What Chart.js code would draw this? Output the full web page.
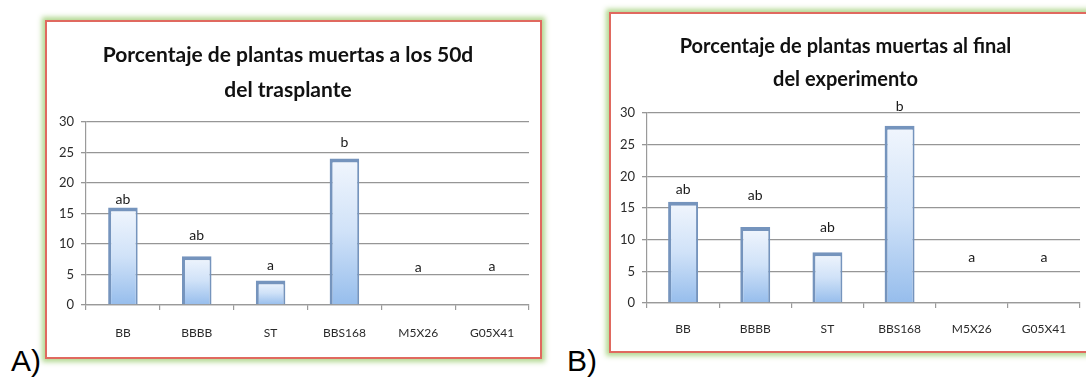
<!DOCTYPE html>
<html>
<head>
<meta charset="utf-8">
<script src="https://cdn.jsdelivr.net/npm/chart.js@4/dist/chart.umd.min.js"></script>
<style>
  html, body { margin: 0; padding: 0; background: #fff; }
  body { width: 1086px; height: 378px; position: relative; overflow: hidden; }
  .frame {
    position: absolute; box-sizing: border-box; background: #fff;
    border: 2px solid #e0695f;
    box-shadow: 0 0 5px 3px rgba(165, 208, 125, 0.85);
  }
  .frame canvas { display: block; }
  .tag { position: absolute; font-family: "Liberation Sans", Arial, sans-serif; font-size: 30px; line-height: 1; color: #000; }
</style>
</head>
<body>
<div class="frame" id="frameA" style="left:45px; top:20px; width:497px; height:339px;"><canvas id="chartA" width="493" height="335"></canvas></div>
<div class="frame" id="frameB" style="left:609px; top:12px; width:484px; height:341px;"><canvas id="chartB" width="480" height="337"></canvas></div>
<div class="tag" style="left:11px; top:346px;">A)</div>
<div class="tag" style="left:567px; top:346px;">B)</div>
<script>
// Genotypes evaluated
const categories = ['BB', 'BBBB', 'ST', 'BBS168', 'M5X26', 'G05X41'];
// Percentage of dead plants 50 days after transplanting
const deadAt50d = [16, 8, 4, 24, 0, 0];
// Percentage of dead plants at the end of the experiment
const deadAtEnd = [16, 12, 8, 28, 0, 0];
// Significance groups (letters) for each genotype
const lettersAt50d = ['ab', 'ab', 'a', 'b', 'a', 'a'];
const lettersAtEnd = ['ab', 'ab', 'ab', 'b', 'a', 'a'];
// Y-axis tick values
const yTicks = [0, 5, 10, 15, 20, 25, 30];

const FONT = 'Lato, "Open Sans", sans-serif';

// Writes the significance letter above each bar
const groupLetters = {
  id: 'groupLetters',
  afterDatasetsDraw(chart, args, opts) {
    const ctx = chart.ctx;
    const meta = chart.getDatasetMeta(0);
    ctx.save();
    ctx.font = opts.size + 'px ' + FONT;
    ctx.fillStyle = '#1a1a1a';
    ctx.textAlign = 'center';
    ctx.textBaseline = 'middle';
    meta.data.forEach((bar, i) => {
      ctx.fillText(opts.letters[i], bar.x, bar.y - opts.offsets[i]);
    });
    ctx.restore();
  }
};

function barFill(c) {
  const chart = c.chart;
  if (!chart.chartArea || !chart.scales.y) return '#c8dcf5';
  const y = chart.scales.y;
  const top = y.getPixelForValue(c.raw);
  const bot = y.getPixelForValue(0);
  if (bot - top < 1) return '#c8dcf5';
  const g = chart.ctx.createLinearGradient(0, top, 0, bot);
  g.addColorStop(0, '#f1f6fd');
  g.addColorStop(0.5, '#d0e2f8');
  g.addColorStop(1, '#96bdec');
  return g;
}

function makeChart(id, values, letters, cfg) {
  return new Chart(document.getElementById(id), {
    type: 'bar',
    data: {
      labels: categories,
      datasets: [{
        data: values,
        backgroundColor: barFill,
        borderColor: '#7594bd',
        borderWidth: { top: 4, left: 3, right: 2, bottom: 0 },
        barPercentage: cfg.barPct,
        categoryPercentage: 1
      }]
    },
    options: {
      responsive: false,
      animation: false,
      devicePixelRatio: 1,
      layout: { padding: { left: 0, right: 11, top: 0, bottom: 0 } },
      plugins: {
        legend: { display: false },
        tooltip: { enabled: false },
        title: {
          display: true,
          text: cfg.title,
          color: '#111',
          font: { family: FONT, size: cfg.titleSize, weight: 'bold', lineHeight: cfg.titleLine + 'px' },
          padding: { top: cfg.titleTop, bottom: cfg.titleBottom }
        },
        groupLetters: { letters: letters, offsets: cfg.letterOffsets, size: 14 }
      },
      scales: {
        x: {
          afterFit: s => { s.height = cfg.xHeight; },
          grid: { display: true, drawOnChartArea: false, drawTicks: true, tickLength: 5, color: '#9a9a9a', lineWidth: 1.2 },
          border: { display: true, color: '#9a9a9a', width: 1.2 },
          ticks: { color: '#2a2a2a', font: { family: FONT, size: 12 }, padding: cfg.xPad, maxRotation: 0 }
        },
        y: {
          min: 0, max: 30,
          afterFit: s => { s.width = cfg.yWidth; },
          afterBuildTicks: s => { s.ticks = yTicks.map(v => ({ value: v })); },
          grid: { color: '#969696', lineWidth: 1.3, drawTicks: true, tickLength: 5 },
          border: { display: true, color: '#9a9a9a', width: 1.2 },
          ticks: { color: '#2a2a2a', font: { family: FONT, size: 13 }, padding: 7 }
        }
      }
    },
    plugins: [groupLetters]
  });
}

makeChart('chartA', deadAt50d, lettersAt50d, {
  title: ['Porcentaje de plantas muertas a los 50d', 'del trasplante'],
  titleSize: 21, titleLine: 35, titleTop: 15.5, titleBottom: 14.5,
  xHeight: 52, yWidth: 39, xPad: 16, barPct: 0.4,
  letterOffsets: [8, 21, 15, 16, 38, 39]
});

makeChart('chartB', deadAtEnd, lettersAtEnd, {
  title: ['Porcentaje de plantas muertas al final', 'del experimento'],
  titleSize: 20, titleLine: 33, titleTop: 16.5, titleBottom: 16.5,
  xHeight: 48, yWidth: 36, xPad: 14, barPct: 0.415,
  letterOffsets: [12, 32, 25, 19, 46, 46]
});
</script>
</body>
</html>
